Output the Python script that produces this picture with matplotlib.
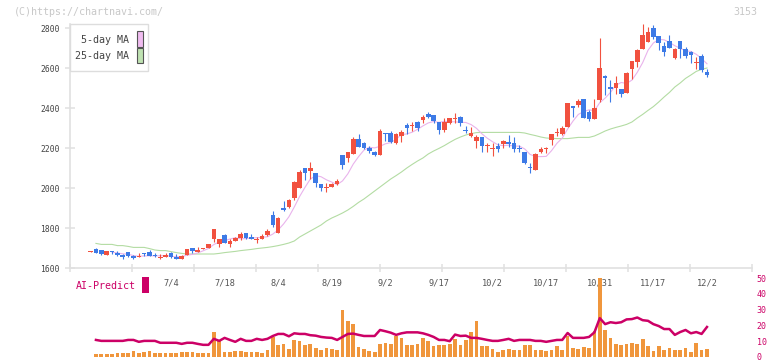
import numpy as np
import pandas as pd
import matplotlib
matplotlib.use('Agg')
import matplotlib.pyplot as plt
from matplotlib.patches import Rectangle

# daily candles (index 0 = first session shown)
opens = [1682,1695,1690,1667,1685,1677,1663,1680,1660,1657,1675,1680,1662,1652,1657,1675,1657,1647,1667,1698,
         1682,1697,1702,1747,1722,1765,1722,1737,1748,1775,1755,1740,1747,1765,1865,1777,1900,1907,1948,2002,
         2100,2083,2073,2020,1998,2007,2018,2165,2152,2172,2245,2227,2202,2180,2165,2275,2275,2223,2260,2315,
         2310,2330,2340,2368,2365,2330,2288,2323,2345,2355,2290,2262,2237,2255,2212,2195,2210,2222,2232,2227,
         2198,2178,2102,2090,2180,2193,2242,2273,2268,2307,2410,2417,2445,2378,2345,2440,2560,2503,2500,2495,
         2475,2595,2630,2695,2730,2798,2760,2710,2735,2652,2735,2695,2678,2623,2658,2580]
highs = [1685,1700,1692,1687,1687,1685,1670,1682,1667,1673,1676,1688,1673,1668,1675,1680,1668,1664,1697,1700,
         1705,1702,1722,1797,1747,1770,1745,1755,1780,1777,1770,1757,1770,1793,1885,1857,1935,1943,2037,2088,
         2102,2130,2075,2022,2023,2027,2045,2167,2182,2255,2272,2230,2212,2187,2293,2277,2283,2277,2290,2323,
         2332,2333,2365,2378,2367,2332,2348,2352,2373,2360,2310,2307,2267,2257,2227,2227,2223,2240,2265,2253,
         2213,2180,2123,2177,2203,2207,2272,2298,2310,2425,2412,2445,2445,2390,2445,2752,2565,2540,2560,2497,
         2582,2637,2693,2820,2807,2815,2762,2732,2765,2698,2737,2703,2685,2657,2670,2593]
lows = [1681,1675,1667,1665,1668,1662,1647,1653,1647,1657,1662,1660,1657,1647,1655,1652,1645,1645,1665,1677,
        1680,1695,1700,1732,1707,1725,1707,1733,1740,1745,1743,1723,1745,1760,1807,1775,1887,1902,1940,2000,
        2040,2047,2007,1983,1982,2003,2015,2095,2132,2170,2205,2195,2173,2160,2165,2235,2223,2220,2228,2268,
        2285,2287,2323,2352,2323,2268,2282,2318,2327,2312,2273,2257,2202,2182,2182,2162,2182,2202,2207,2182,
        2178,2118,2077,2088,2173,2173,2217,2260,2265,2305,2357,2403,2350,2337,2343,2430,2465,2432,2470,2453,
        2473,2547,2607,2693,2728,2743,2690,2660,2698,2645,2652,2652,2627,2595,2582,2553]
closes = [1684,1677,1672,1685,1678,1663,1657,1662,1650,1660,1672,1662,1658,1655,1665,1653,1647,1662,1695,1683,
          1690,1700,1720,1795,1745,1727,1737,1752,1770,1748,1745,1743,1760,1785,1815,1850,1890,1940,2028,2080,
          2077,2100,2023,2002,2003,2020,2037,2115,2180,2245,2207,2200,2185,2165,2285,2270,2230,2270,2280,2302,
          2313,2302,2355,2355,2337,2292,2328,2348,2348,2327,2287,2275,2255,2212,2217,2198,2197,2235,2222,2197,
          2195,2127,2098,2170,2195,2200,2270,2282,2300,2423,2398,2437,2352,2345,2400,2600,2550,2495,2525,2468,
          2575,2635,2690,2765,2778,2757,2723,2682,2700,2695,2693,2662,2663,2630,2588,2563]

ma25 = [np.nan,1723,1718,1718,1718,1712,1712,1708,1703,1703,1703,1697,1690,1687,1687,1682,1677,1673,1670,1670,
        1670,1670,1670,1670,1673,1677,1680,1683,1687,1690,1693,1697,1700,1703,1707,1712,1718,1725,1735,1755,
        1770,1785,1800,1815,1835,1850,1862,1875,1890,1908,1928,1945,1965,1985,2005,2025,2045,2062,2080,2100,
        2118,2135,2150,2170,2185,2198,2212,2228,2243,2255,2265,2272,2277,2278,2278,2278,2278,2278,2278,2278,
        2278,2275,2268,2262,2255,2250,2248,2247,2247,2247,2250,2253,2253,2253,2260,2272,2285,2295,2303,2310,
        2318,2330,2350,2368,2388,2407,2430,2455,2478,2505,2525,2548,2565,2583,2593,2600]

volume = [np.nan,1.7,1.7,1.7,1.7,2.3,2.3,2.7,4.0,2.3,2.9,4.0,2.3,2.3,2.3,2.3,2.3,2.9,3.3,3.3,
          2.3,2.3,2.3,15.8,10.0,3.3,2.9,4.0,4.0,2.9,2.9,3.3,2.3,4.6,12.9,7.3,8.3,5.2,10.8,10.2,
          7.3,8.3,5.8,4.6,5.8,5.2,4.6,29.8,22.7,20.8,6.5,5.2,4.0,3.3,8.3,9.0,8.3,13.5,12.0,7.9,
          7.3,8.3,12.0,10.2,7.0,7.7,7.7,8.3,11.5,7.7,10.8,15.8,22.7,7.0,7.0,5.2,3.3,4.6,5.2,4.6,
          4.6,7.7,7.7,4.6,4.6,4.0,4.6,7.0,4.6,13.5,5.8,5.2,6.5,5.8,16.5,50.0,17.0,12.0,8.3,7.7,
          8.3,9.0,8.3,11.5,7.0,4.0,7.0,4.6,5.8,4.6,4.6,5.8,3.3,9.0,4.6,5.2]

ai_predict = [np.nan,10.8,10.2,10.2,10.2,10.2,10.2,10.8,10.8,9.6,10.2,10.2,10.2,9.0,9.0,9.0,9.0,8.3,9.0,9.0,
              8.3,7.7,7.7,11.5,10.2,12.1,10.8,9.6,11.5,10.2,10.2,11.5,10.8,11.5,13.3,14.6,14.6,13.1,15.0,14.6,
              14.6,13.8,13.5,12.7,12.3,12.1,10.8,12.7,14.6,14.8,14.0,13.3,13.3,13.3,17.1,16.3,15.4,14.0,15.0,15.6,
              15.6,15.6,15.0,14.0,12.7,10.8,10.8,10.0,14.2,13.3,13.5,12.1,12.1,11.5,10.8,10.2,10.2,10.8,11.5,10.2,
              10.8,10.8,10.8,10.2,10.2,9.6,10.2,10.8,10.8,15.2,12.1,12.1,12.1,12.7,15.6,24.6,20.8,22.0,21.5,22.0,
              23.8,24.0,25.0,23.3,22.9,20.8,19.6,17.7,17.7,14.0,15.8,17.1,15.0,15.8,14.6,19.0]

date_pos = [15, 25, 35, 45, 55, 65, 75, 85, 95, 105, 115]
date_labels = ['7/4', '7/18', '8/4', '8/19', '9/2', '9/17', '10/2', '10/17', '10/31', '11/17', '12/2']
price_ticks = [1600, 1800, 2000, 2200, 2400, 2600, 2800]
ai_ticks = [0, 10, 20, 30, 40, 50]

W, H = 772, 361
def fx(px): return px / W
def fy(py): return 1 - py / H

MONO = 'DejaVu Sans Mono'
UP, DOWN = '#f1513f', '#3d7ae6'
GRID = '#e0e0e0'
MAGENTA = '#cc0066'

df = pd.DataFrame({'o': opens, 'h': highs, 'l': lows, 'c': closes})
x = np.arange(len(df))
ma5 = df['c'].rolling(5).mean()
xlim = (-3.84, 123.4)

fig = plt.figure(figsize=(W / 100, H / 100), dpi=100)

# price panel
ax = fig.add_axes([fx(70), fy(268), 682 / W, 244 / H])
ax.set_xlim(*xlim)
ax.set_ylim(1600, 2820)
ax.plot(x, ma25, color='#b3dca3', lw=0.8, zorder=1)
ax.plot(x, ma5, color='#e9b3ec', lw=0.8, zorder=1)
up = df['c'] >= df['o']
cols = np.where(up, UP, DOWN)
ax.vlines(x, df['l'], df['h'], colors=cols, lw=0.8, zorder=2)
bottom = np.minimum(df['o'], df['c'])
height = np.maximum((df['c'] - df['o']).abs(), 5)
ax.bar(x, height, bottom=bottom, width=0.86, color=cols, lw=0, zorder=3)

for s in ['top', 'right']:
    ax.spines[s].set_visible(False)
for s in ['left', 'bottom']:
    ax.spines[s].set_color(GRID)
    ax.spines[s].set_linewidth(1.2)
ax.set_yticks(price_ticks)
ax.set_yticklabels([str(t) for t in price_ticks], family=MONO)
ax.tick_params(axis='y', direction='inout', length=6.5, width=1.1, color=GRID,
               labelcolor='#444444', labelsize=5.8, pad=4)
ax.set_xticks(date_pos)
ax.set_xticklabels(date_labels, family=MONO)
ax.tick_params(axis='x', which='major', length=0, labelcolor='#555555', labelsize=6.2, pad=7.5)
ax.set_xticks(np.linspace(xlim[0], xlim[1], 12), minor=True)
ax.tick_params(axis='x', which='minor', direction='inout', length=6, width=1.1, color=GRID)

# AI-Predict panel
ax2 = fig.add_axes([fx(70), fy(357), 682 / W, 79 / H], facecolor='none')
ax2.set_xlim(*xlim)
ax2.set_ylim(0, 50)
ax2.bar(x, volume, width=0.7, color='#f0963c', lw=0, zorder=1)
ax2.plot(x, ai_predict, color=MAGENTA, lw=1.8, zorder=2)
for s in ax2.spines.values():
    s.set_visible(False)
ax2.set_xticks([])
ax2.yaxis.tick_right()
ax2.set_yticks(ai_ticks)
ax2.set_yticklabels([str(t) for t in ai_ticks], family=MONO)
ax2.tick_params(axis='y', length=0, labelcolor=MAGENTA, labelsize=6, pad=3.5)

# texts and legend
fig.text(fx(14), fy(12), '(C)https://chartnavi.com/', color='#c8c8c8', fontsize=7.2,
         family=MONO, va='center')
fig.text(fx(757), fy(12), '3153', color='#c8c8c8', fontsize=7.2, family=MONO,
         va='center', ha='right')

fig.add_artist(Rectangle((fx(70), fy(71)), 78 / W, 47 / H, transform=fig.transFigure,
                         fc='white', ec='#dddddd', lw=1, zorder=5))
fig.text(fx(129), fy(40), '5-day MA', color='#444444', fontsize=7.2, family=MONO,
         ha='right', va='center', zorder=6)
fig.text(fx(129), fy(56), '25-day MA', color='#444444', fontsize=7.2, family=MONO,
         ha='right', va='center', zorder=6)
fig.add_artist(Rectangle((fx(136.5), fy(46.5)), 6 / W, 15 / H, transform=fig.transFigure,
                         fc='#f0bcf0', ec='#555555', lw=0.8, zorder=6))
fig.add_artist(Rectangle((fx(136.5), fy(63)), 6 / W, 15 / H, transform=fig.transFigure,
                         fc='#bfe2b2', ec='#555555', lw=0.8, zorder=6))

fig.text(fx(76), fy(286), 'AI-Predict', color=MAGENTA, fontsize=7.2, family=MONO, va='center')
fig.add_artist(Rectangle((fx(142), fy(293)), 7 / W, 16 / H, transform=fig.transFigure,
                         fc=MAGENTA, ec='none', zorder=6))

fig.savefig('out.png', dpi=100)
